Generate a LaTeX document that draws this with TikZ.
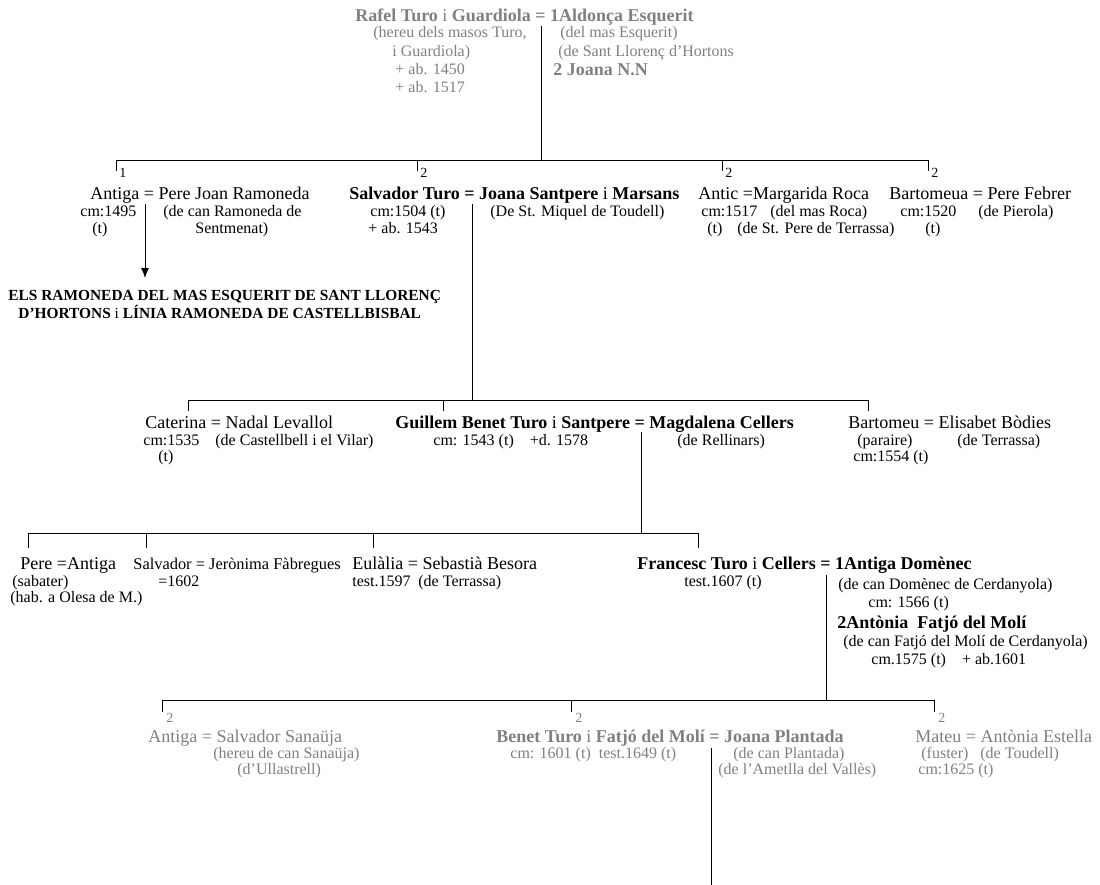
\documentclass[tikz,border=0pt]{standalone}
\usepackage{fontspec}
\setmainfont{Liberation Serif}
\usetikzlibrary{arrows.meta}
\begin{document}
\begin{tikzpicture}[x=0.5pt,y=-0.5pt,
    nm/.style={anchor=base west,inner sep=0pt,font=\fontsize{9}{11}\selectfont},
    nmb/.style={anchor=base west,inner sep=0pt,font=\fontsize{9}{11}\selectfont\bfseries},
    dt/.style={anchor=base west,inner sep=0pt,font=\fontsize{8}{10}\selectfont},
    nr/.style={anchor=base west,inner sep=0pt,font=\fontsize{7}{8}\selectfont},
    faded/.style={text=black!50}]
  \useasboundingbox (0,0) rectangle (1100,885);
  % Rafel Turo i Guardiola
  \node[nmb,faded] (rafel) at (355,21) {Rafel Turo \textmd{i} Guardiola = 1Aldonça Esquerit};
  \node[dt,faded] (rafelA) at (373,37) {(hereu dels masos Turo,};
  \node[dt,faded] (rafelB) at (392,56) {i Guardiola)};
  \node[dt,faded] (rafelC) at (395,74) {+ ab. 1450};
  \node[dt,faded] (rafelD) at (395,92) {+ ab. 1517};
  \node[dt,faded] (aldoncaA) at (560,37) {(del mas Esquerit)};
  \node[dt,faded] (aldoncaB) at (558,56) {(de Sant Llorenç d'Hortons};
  \node[nmb,faded] (joana) at (553,75) {2 Joana N.N};
  % fills del primer matrimoni i del segon
  \node[nm] (antiga) at (90,199) {Antiga = Pere Joan Ramoneda};
  \node[dt] (antigaA) at (80,216) {cm:1495};
  \node[dt] (antigaB) at (92,233) {(t)};
  \node[dt] (pereA) at (163,216) {(de can Ramoneda de};
  \node[dt] (pereB) at (195,233) {Sentmenat)};
  \node[nmb] (salvador) at (349,199) {Salvador Turo = Joana Santpere \textmd{i} Marsans};
  \node[dt] (salvadorA) at (370,216) {cm:1504 (t)};
  \node[dt] (salvadorB) at (368,233) {+ ab. 1543};
  \node[dt] (joanaA) at (490,216) {(De St. Miquel de Toudell)};
  \node[nm] (antic) at (698,199) {Antic =Margarida Roca};
  \node[dt] (anticA) at (701,216) {cm:1517};
  \node[dt] (anticB) at (707,233) {(t)};
  \node[dt] (margaridaA) at (770,216) {(del mas Roca)};
  \node[dt] (margaridaB) at (737,233) {(de St. Pere de Terrassa)};
  \node[nm] (bartomeua) at (889,199) {Bartomeua = Pere Febrer};
  \node[dt] (bartomeuaA) at (900,216) {cm:1520};
  \node[dt] (bartomeuaB) at (925,233) {(t)};
  \node[dt] (febrerA) at (978,216) {(de Pierola)};
  \node[nr] (n11) at (119,177) {1};
  \node[nr] (n12) at (420,177) {2};
  \node[nr] (n13) at (725,177) {2};
  \node[nr] (n14) at (931,177) {2};
  \node[nmb,font=\fontsize{7.7}{9}\selectfont\bfseries] (ramoneda) at (8,300) {ELS RAMONEDA DEL MAS ESQUERIT DE SANT LLORENÇ};
  \node[nmb,font=\fontsize{7.7}{9}\selectfont\bfseries] (ramonedaB) at (18,318) {D'HORTONS \textmd{i} LÍNIA RAMONEDA DE CASTELLBISBAL};
  % fills de Salvador
  \node[nm] (caterina) at (145,428) {Caterina = Nadal Levallol};
  \node[dt] (caterinaA) at (143,445) {cm:1535};
  \node[dt] (caterinaB) at (158,461) {(t)};
  \node[dt] (nadalA) at (215,445) {(de Castellbell i el Vilar)};
  \node[nmb] (guillem) at (395,428) {Guillem Benet Turo \textmd{i} Santpere = Magdalena Cellers};
  \node[dt] (guillemA) at (433,445) {cm: 1543 (t)\quad +d. 1578};
  \node[dt] (magdalenaA) at (677,445) {(de Rellinars)};
  \node[nm] (bartomeu) at (848,428) {Bartomeu = Elisabet Bòdies};
  \node[dt] (bartomeuA) at (857,445) {(paraire)};
  \node[dt] (bartomeuB) at (853,461) {cm:1554 (t)};
  \node[dt] (elisabetA) at (957,445) {(de Terrassa)};
  % fills de Guillem
  \node[nm] (pere) at (20,569) {Pere =Antiga};
  \node[dt] (pereS) at (12,586) {(sabater)};
  \node[dt] (pereH) at (10,602) {(hab. a Olesa de M.)};
  \node[nm,font=\fontsize{8.2}{10}\selectfont] (salvador2) at (133,569) {Salvador = Jerònima Fàbregues};
  \node[dt] (salvador2A) at (158,586) {=1602};
  \node[nm] (eulalia) at (352,569) {Eulàlia = Sebastià Besora};
  \node[dt] (eulaliaA) at (352,586) {test.1597};
  \node[dt] (sebastiaA) at (418,586) {(de Terrassa)};
  \node[nmb] (francesc) at (637,569) {Francesc Turo \textmd{i} Cellers = 1Antiga Domènec};
  \node[dt] (francescA) at (684,586) {test.1607 (t)};
  \node[dt] (domenecA) at (838,589) {(de can Domènec de Cerdanyola)};
  \node[dt] (domenecB) at (868,607) {cm: 1566 (t)};
  \node[nmb] (antonia) at (837,628) {2Antònia\ \ Fatjó del Molí};
  \node[dt] (antoniaA) at (843,646) {(de can Fatjó del Molí de Cerdanyola)};
  \node[dt] (antoniaB) at (871,664) {cm.1575 (t)\quad + ab.1601};
  % fills de Francesc
  \node[nm,faded] (antiga2) at (148,742) {Antiga = Salvador Sanaüja};
  \node[dt,faded] (sanaujaA) at (213,758) {(hereu de can Sanaüja)};
  \node[dt,faded] (sanaujaB) at (237,774) {(d'Ullastrell)};
  \node[nmb,faded] (benet) at (496,742) {Benet Turo \textmd{i} Fatjó del Molí = Joana Plantada};
  \node[dt,faded] (benetA) at (510,758) {cm: 1601 (t)\ \ test.1649 (t)};
  \node[dt,faded] (plantadaA) at (733,758) {(de can Plantada)};
  \node[dt,faded] (plantadaB) at (718,774) {(de l'Ametlla del Vallès)};
  \node[nm,faded] (mateu) at (915,742) {Mateu = Antònia Estella};
  \node[dt,faded] (mateuA) at (921,758) {(fuster)};
  \node[dt,faded] (mateuB) at (918,774) {cm:1625 (t)};
  \node[dt,faded] (estellaA) at (980,758) {(de Toudell)};
  \node[nr,faded] (n51) at (166,722) {2};
  \node[nr,faded] (n52) at (575,722) {2};
  \node[nr,faded] (n53) at (938,722) {2};
  % punts de les linies
  \coordinate (e0) at (541,26);
  \coordinate (b1L) at (116,160);
  \coordinate (b1a) at (541,160);
  \coordinate (b1b) at (417,160);
  \coordinate (b1c) at (722,160);
  \coordinate (b1R) at (928,160);
  \coordinate (t11) at (116,171);
  \coordinate (t12) at (417,171);
  \coordinate (t13) at (722,171);
  \coordinate (t14) at (928,171);
  \coordinate (e1) at (145,204);
  \coordinate (a1) at (145,278);
  \coordinate (e2) at (472,204);
  \coordinate (b2L) at (188,400);
  \coordinate (b2a) at (472,400);
  \coordinate (b2b) at (443,400);
  \coordinate (b2R) at (868,400);
  \coordinate (t21) at (188,411);
  \coordinate (t22) at (443,411);
  \coordinate (t23) at (868,411);
  \coordinate (e3) at (641,432);
  \coordinate (b3L) at (28,533);
  \coordinate (b3a) at (641,533);
  \coordinate (b3b) at (146,533);
  \coordinate (b3c) at (373,533);
  \coordinate (b3R) at (698,533);
  \coordinate (t31) at (28,548);
  \coordinate (t32) at (146,548);
  \coordinate (t33) at (373,548);
  \coordinate (t34) at (698,548);
  \coordinate (e4) at (826,575);
  \coordinate (b4L) at (162,700);
  \coordinate (b4a) at (826,700);
  \coordinate (b4b) at (571,700);
  \coordinate (b4R) at (934,700);
  \coordinate (t41) at (162,712);
  \coordinate (t42) at (571,712);
  \coordinate (t43) at (934,712);
  \coordinate (e5) at (711,748);
  \coordinate (f5) at (711,885);
  \begin{scope}[-,line width=0.5pt]
    \draw (e0) to (b1a);
    \draw (t11) to (b1L) to (b1R) to (t14);
    \draw (b1b) to (t12);
    \draw (b1c) to (t13);
    \draw[-{Latex[length=5pt,width=4pt]}] (e1) to (a1);
    \draw (e2) to (b2a);
    \draw (t21) to (b2L) to (b2R) to (t23);
    \draw (b2b) to (t22);
    \draw (e3) to (b3a);
    \draw (t31) to (b3L) to (b3R) to (t34);
    \draw (b3b) to (t32);
    \draw (b3c) to (t33);
    \draw (e4) to (b4a);
    \draw (t41) to (b4L) to (b4R) to (t43);
    \draw (b4b) to (t42);
    \draw (e5) to (f5);
  \end{scope}
\end{tikzpicture}
\end{document}
